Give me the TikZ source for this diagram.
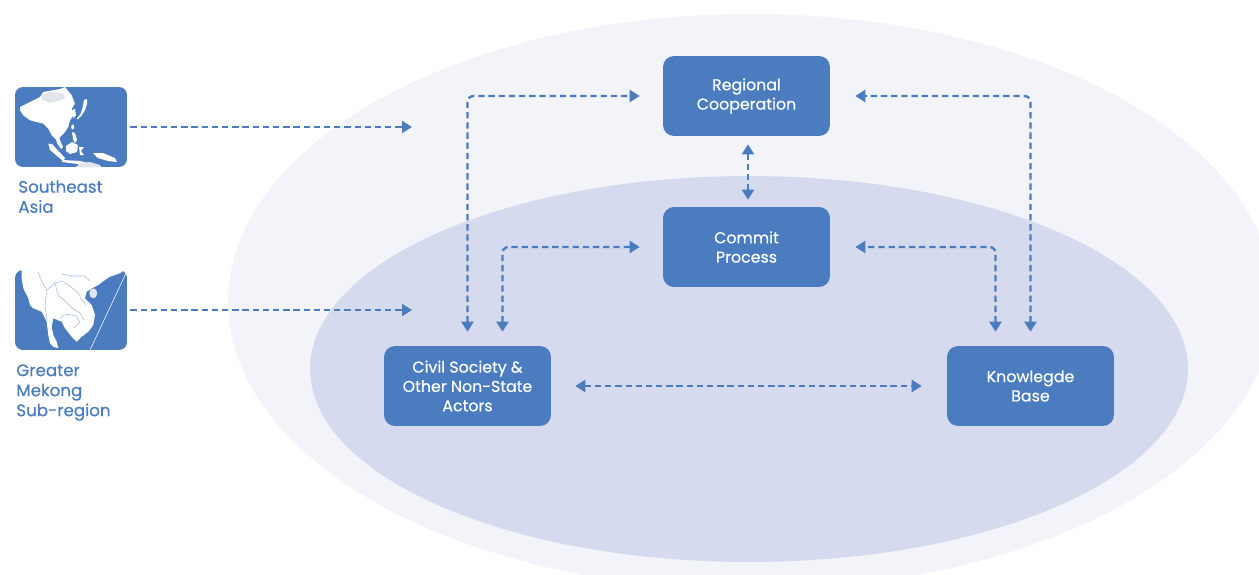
\documentclass[tikz,border=0pt]{standalone}
\usepackage{fontspec}
\setmainfont{Poppins}
\newfontfamily\medfont{Poppins}[FakeBold=0.35]
\usetikzlibrary{arrows.meta}
\definecolor{boxblue}{RGB}{74,124,191}
\definecolor{outerfill}{RGB}{242,244,250}
\definecolor{innerfill}{RGB}{213,218,238}
\definecolor{landgrey}{RGB}{225,229,237}
\definecolor{borderblue}{RGB}{160,185,225}
\tikzset{
  box/.style={fill=boxblue, rounded corners=0.22cm, minimum width=3.34cm, minimum height=1.6cm,
    text=white, align=center, inner sep=0pt, font=\medfont\fontsize{9}{11}\selectfont},
  icon/.style={fill=boxblue, rounded corners=0.16cm, minimum width=2.24cm, minimum height=1.6cm, inner sep=0pt},
  lbl/.style={text=boxblue, align=left, inner sep=0pt, font=\medfont\fontsize{9.5}{11.4}\selectfont},
  arr/.style={draw=boxblue, line width=1.3pt, dash pattern=on 3.6pt off 2.2pt},
  twoway/.style={arr, arrows={Triangle[length=2mm,width=2.4mm]-Triangle[length=2mm,width=2.4mm]}},
  oneway/.style={arr, arrows={-Triangle[length=2mm,width=2.4mm]}},
  land/.style={fill=white},
}
\begin{document}
\begin{tikzpicture}[x=0.02cm,y=-0.02cm]
\useasboundingbox (0,0) rectangle (1259,575);
\clip (0,0) rectangle (1259,575);
\fill[white] (0,0) rectangle (1259,575);
\fill[outerfill] (751,302) ellipse [x radius=10.46cm, y radius=5.76cm];
\fill[innerfill] (749,369) ellipse [x radius=8.78cm, y radius=3.86cm];

% boxes
\node[box] (rc) at (746.5,96) {Regional\\Cooperation};
\node[box] (cp) at (746.5,247) {Commit\\Process};
\node[box] (cs) at (467.5,386) {Civil Society \&\\Other Non-State\\Actors};
\node[box] (kb) at (1030.5,386) {Knowlegde\\Base};

% icons
\node[icon] (sea) at (71,127) {};
\node[icon] (gms) at (71,310) {};
\begin{scope}
\clip[rounded corners=0.16cm] (sea.south west) rectangle (sea.north east);
\fill[land] (20,107)--(30,102)--(40,97)--(43.3,92)--(60,89)--(65,87)--(71.7,95.3)--(75,103.7)--(71.7,108.7)--(73.3,115.3)--(70,120.3)--(68.3,127)--(65,132)--(60,137)--(58.3,142)--(55,138.7)--(51.7,135.3)--(48.3,128.7)--(43.3,123.7)--(36.7,122)--(30,120.3)--(23.3,115.3)--(20,110.3)--cycle;
\fill[landgrey] (41.7,95.3)--(50,92)--(63.3,93)--(65,99)--(50,103)--(41.7,100)--cycle;
\fill[land] (71.7,110.3)--(75,108.7)--(76,115.3)--(73.3,118)--cycle;
\fill[land] (76.7,118.7)--(80.7,113.7)--(82.7,107)--(84,100.3)--(86.7,98.7)--(87.3,102.7)--(85,110.3)--(81.7,115.3)--(77.7,119.3)--cycle;
\fill[land] (72.7,127) ellipse [x radius=0.03cm, y radius=0.05cm];
\fill[land] (72,132)--(75,133)--(77,140)--(75,143)--(73,139)--cycle;
\fill[land] (48.3,143.7)--(52,144)--(65,158)--(63,161)--(50,150)--cycle;
\fill[land] (56,138)--(59,138)--(63,147)--(61,149)--(57,143)--cycle;
\fill[land] (66,146)--(72,142)--(78,145)--(77,152)--(70,154)--(66,151)--cycle;
\fill[land] (62,160)--(80,161)--(88,163)--(86,165)--(62,162)--cycle;
\fill[land] (79,147)--(84,147)--(81,151)--(84,155)--(80,155)--cycle;
\fill[land] (93,153)--(103,153)--(115,158)--(117,162)--(108,161)--(98,158)--cycle;
\fill[landgrey] (75,168)--(80,163)--(90,162)--(100,165)--(102,168)--cycle;
\end{scope}
\begin{scope}
\clip[rounded corners=0.16cm] (gms.south west) rectangle (gms.north east);
\fill[land] (21.7,268)--(127,268)--(120,273.3)--(110,276.7)--(105,280)--(98.3,285)--(91.7,288.3)--(86.7,291.7)--(85,298.3)--(91.7,305)--(95,315)--(93.3,325)--(88.3,331.7)--(81.7,336.7)--(76.7,341.7)--(71.7,336.7)--(65,328.3)--(61.7,321.7)--(53.3,318.3)--(51.7,326.7)--(53.3,335)--(56.7,341.7)--(58.3,348.3)--(53.3,346.7)--(50,343.3)--(48.3,335)--(46.7,321.7)--(41.7,311.7)--(33.3,308.3)--(30,305)--(28.3,298.3)--(23.3,288.3)--(21.7,278.3)--cycle;
\fill[landgrey] (93.3,293.3) ellipse [x radius=0.08cm, y radius=0.1cm];
\draw[borderblue, line width=0.3pt] (38,272)--(42,282)--(47,290)--(45,305)--(47,321);
\draw[borderblue, line width=0.3pt] (47,290)--(55,283)--(62,281)--(70,286)--(78,293)--(82,300)--(86,305);
\draw[borderblue, line width=0.3pt] (55,283)--(58,295)--(66,302)--(72,308)--(80,313)--(84,320);
\draw[borderblue, line width=0.3pt] (60,318)--(66,314)--(76,316)--(80,322)--(74,328);
\draw[borderblue, line width=0.3pt] (62,274)--(72,276)--(84,276)--(90,281);
\draw[white, line width=0.3pt] (126.7,271.7)--(90,350);
\end{scope}

% labels
\node[lbl, anchor=north west] (sealbl) at (18,180) {Southeast\\Asia};
\node[lbl, anchor=north west] (gmslbl) at (16,364) {Greater\\Mekong\\Sub-region};

% connectors
\coordinate (seaend) at (412,127);
\coordinate (gmsend) at (412,310);
\draw[oneway] ([xshift=0.06cm]sea.east) -- (seaend);
\draw[oneway] ([xshift=0.06cm]gms.east) -- (gmsend);
\draw[twoway, rounded corners=0.12cm, shorten <=0.28cm, shorten >=0.46cm] (cs.north) |- (rc.west);
\draw[twoway, rounded corners=0.12cm, shorten <=0.28cm, shorten >=0.46cm] ([xshift=0.7cm]cs.north) |- (cp.west);
\draw[twoway, rounded corners=0.12cm, shorten <=0.28cm, shorten >=0.5cm] (kb.north) |- (rc.east);
\draw[twoway, rounded corners=0.12cm, shorten <=0.28cm, shorten >=0.5cm] ([xshift=-0.7cm]kb.north) |- (cp.east);
\draw[twoway, shorten <=0.16cm, shorten >=0.14cm] ([xshift=0.03cm]rc.south) -- ([xshift=0.03cm]cp.north);
\draw[twoway, shorten <=0.48cm, shorten >=0.5cm] (cs.east) -- (kb.west);
\end{tikzpicture}
\end{document}
